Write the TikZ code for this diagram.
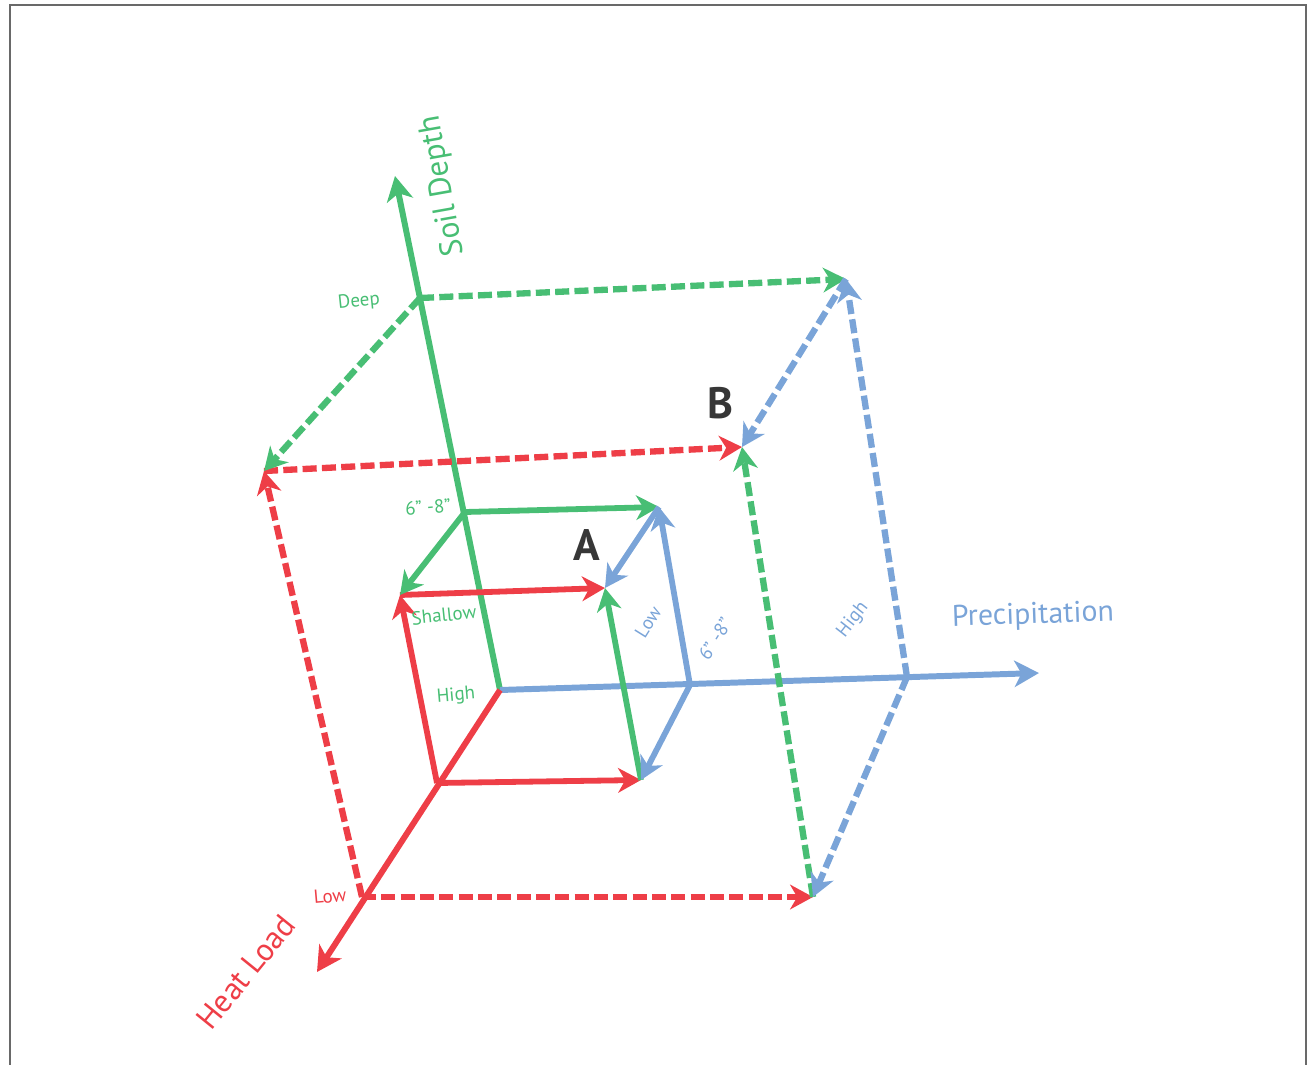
\documentclass[tikz,border=0pt]{standalone}
\usepackage{fontspec}
\setmainfont{PT Sans}
\usetikzlibrary{positioning, arrows.meta}

\definecolor{heatred}{RGB}{238,62,71}
\definecolor{soilgreen}{RGB}{72,190,116}
\definecolor{precblue}{RGB}{122,164,216}
\definecolor{framegray}{RGB}{105,105,105}
\definecolor{pointgray}{RGB}{55,55,55}

\begin{document}
\begin{tikzpicture}[
    x=0.02cm, y=-0.02cm,
    axis/.style={-{Stealth[length=14pt, width=15pt, inset=4pt]}, line width=3.4pt},
    edge/.style={-{Stealth[length=13pt, width=14pt, inset=4pt]}, line width=3.3pt},
    dashedge/.style={edge, line width=3.6pt, dash pattern=on 8pt off 3pt},
    small/.style={font=\fontsize{10.8}{13}\selectfont, inner sep=1pt},
    big/.style={font=\fontsize{17}{20}\selectfont},
    point/.style={font=\fontsize{25}{29}\selectfont\bfseries, text=pointgray}
]

    \useasboundingbox (0,0) rectangle (1309,1065);
    \draw[framegray, line width=1pt] (10,1065) -- (10,5) -- (1306,5) -- (1306,1065);

    % axes
    \coordinate (o) at (500,690);
    \coordinate (soiltip) at (395,176);
    \coordinate (prectip) at (1039,673);
    \coordinate (heattip) at (317,972);

    % levels on the axes
    \coordinate (soilmid) at (465,512);
    \coordinate (soildeep) at (420,298);
    \coordinate (precmid) at (690,685);
    \coordinate (prechigh) at (907,677);
    \coordinate (heathigh) at (437,783);
    \coordinate (heatlow) at (362,897);

    % inner box
    \coordinate (a1) at (400,595);
    \coordinate (a2) at (641,780);
    \coordinate (a3) at (659,507);
    \coordinate (pa) at (605,588);

    % outer box
    \coordinate (b1) at (264,471);
    \coordinate (b2) at (813,897);
    \coordinate (b3) at (846,279);
    \coordinate (pb) at (742,447);

    \draw[axis, soilgreen] (o) -- (soiltip);
    \draw[axis, precblue] (o) -- (prectip);
    \draw[axis, heatred] (o) -- (heattip);

    \draw[edge, heatred] (heathigh) -- (a1);
    \draw[edge, heatred] (heathigh) -- (a2);
    \draw[edge, heatred] (a1) -- (pa);
    \draw[edge, soilgreen] (soilmid) -- (a3);
    \draw[edge, soilgreen] (soilmid) -- (a1);
    \draw[edge, soilgreen] (a2) -- (pa);
    \draw[edge, precblue] (precmid) -- (a3);
    \draw[edge, precblue] (precmid) -- (a2);
    \draw[edge, precblue] (a3) -- (pa);

    \draw[dashedge, heatred] (heatlow) -- (b1);
    \draw[dashedge, heatred] (heatlow) -- (b2);
    \draw[dashedge, heatred] (b1) -- (pb);
    \draw[dashedge, soilgreen] (soildeep) -- (b3);
    \draw[dashedge, soilgreen] (soildeep) -- (b1);
    \draw[dashedge, soilgreen] (b2) -- (pb);
    \draw[dashedge, precblue] (prechigh) -- (b3);
    \draw[dashedge, precblue] (prechigh) -- (b2);
    \draw[dashedge, precblue] (b3) -- (pb);

    % labels
    \node[big, text=soilgreen, rotate=100, font=\fontsize{18}{21}\selectfont] (soillbl) at (443,186) {Soil Depth};
    \node[big, text=precblue, rotate=2] (preclbl) at (1033,616) {Precipitation};
    \node[big, text=heatred, rotate=51, font=\fontsize{18}{21}\selectfont] (heatlbl) at (246,972) {Heat Load};

    \node[small, text=soilgreen, rotate=6] (deeplbl) at (359,302) {Deep};
    \node[small, text=soilgreen, rotate=5] (midlbl) at (428,507) {6” -8”};
    \node[small, text=soilgreen, rotate=6] (shallowlbl) at (444,615) {Shallow};
    \node[small, text=soilgreen, rotate=5] (highlbl) at (456,696) {High};
    \node[small, text=heatred, rotate=5] (lowlbl) at (330,896) {Low};
    \node[small, text=precblue, rotate=58] (plowlbl) at (648,622) {Low};
    \node[small, text=precblue, rotate=58] (pmidlbl) at (715,639) {6” -8”};
    \node[small, text=precblue, rotate=52] (phighlbl) at (853,620) {High};

    \node[point] (albl) at (587,545) {A};
    \node[point] (blbl) at (720,403) {B};

\end{tikzpicture}
\end{document}
